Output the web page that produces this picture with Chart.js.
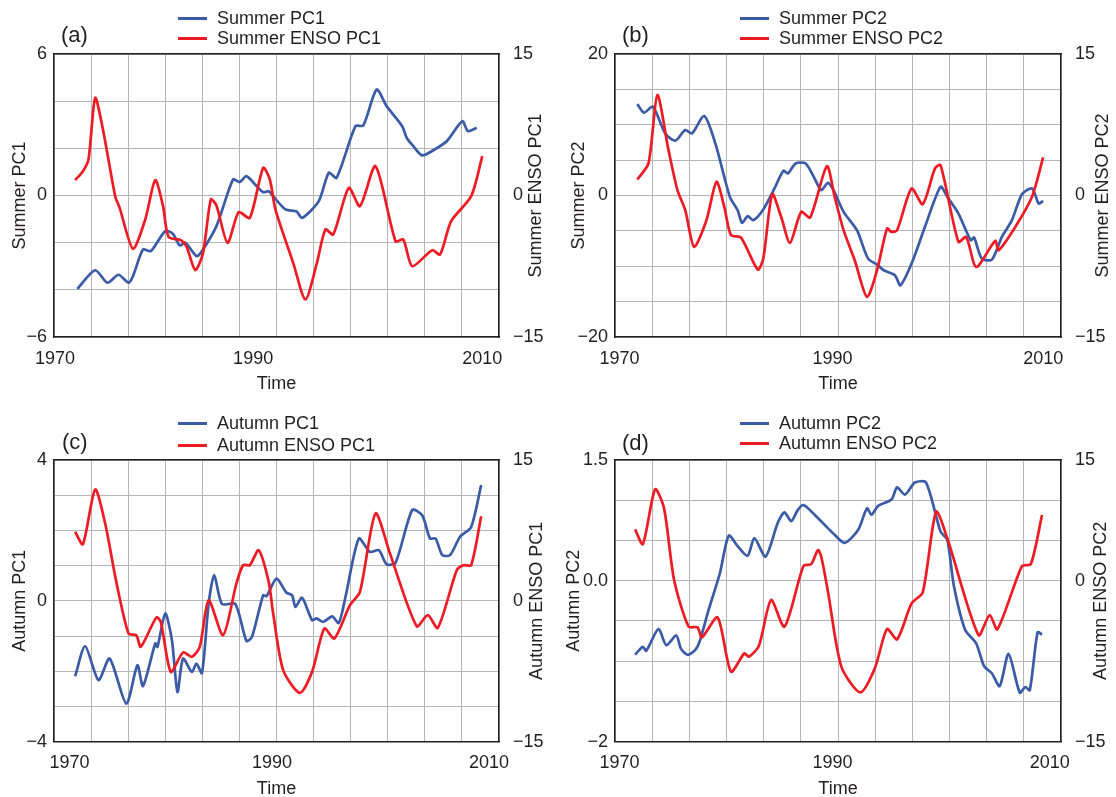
<!doctype html>
<html>
<head>
<meta charset="utf-8">
<title>Summer / Autumn PC vs ENSO PC</title>
<style>
  body { margin:0; background:#fff; font-family:"Liberation Sans", Arial, sans-serif; color:#231f20; }
  .wrap { position:relative; width:1116px; height:797px; overflow:hidden; }
  canvas { position:absolute; }
  .tag { position:absolute; font-size:22px; line-height:24px; }
  .leg { position:absolute; font-size:18px; line-height:20px; white-space:nowrap; }
  .leg i { display:inline-block; width:29px; height:3px; vertical-align:middle; margin-right:10px; position:relative; top:-1px; }
  .b { background:#3b5ba6; } .r { background:#ed1c24; }
</style>
</head>
<body>
<div class="wrap">
  <canvas id="ca" width="558" height="400" style="left:0;top:0"></canvas>
  <canvas id="cb" width="558" height="400" style="left:558px;top:0"></canvas>
  <canvas id="cc" width="558" height="400" style="left:0;top:406px"></canvas>
  <canvas id="cd" width="558" height="400" style="left:558px;top:406px"></canvas>

  <div class="tag" style="left:61px;top:23px">(a)</div>
  <div class="leg" style="left:178px;top:8px"><i class="b"></i>Summer PC1</div>
  <div class="leg" style="left:178px;top:28px"><i class="r"></i>Summer ENSO PC1</div>

  <div class="tag" style="left:622px;top:23px">(b)</div>
  <div class="leg" style="left:740px;top:8px"><i class="b"></i>Summer PC2</div>
  <div class="leg" style="left:740px;top:28px"><i class="r"></i>Summer ENSO PC2</div>

  <div class="tag" style="left:62px;top:430px">(c)</div>
  <div class="leg" style="left:178px;top:413px"><i class="b"></i>Autumn PC1</div>
  <div class="leg" style="left:178px;top:435px"><i class="r"></i>Autumn ENSO PC1</div>

  <div class="tag" style="left:622px;top:431px">(d)</div>
  <div class="leg" style="left:740px;top:413px"><i class="b"></i>Autumn PC2</div>
  <div class="leg" style="left:740px;top:433px"><i class="r"></i>Autumn ENSO PC2</div>
</div>

<script src="https://cdn.jsdelivr.net/npm/chart.js@4.4.1/dist/chart.umd.min.js"></script>
<script>
// values (x = year, y = value on own axis)
const summerPC1Year = [1972.1,1973.7,1974.8,1975.8,1976.7,1977.1,1978.0,1978.7,1980.0,1980.7,1981.3,1981.8,1982.8,1983.2,1984.6,1986.1,1986.7,1987.3,1988.2,1988.8,1989.3,1989.7,1990.8,1991.8,1992.3,1993.8,1994.7,1995.4,1997.1,1997.8,1999.0,1999.9,2001.3,2001.7,2002.3,2003.1,2004.1,2005.3,2006.7,2007.2,2008.0];
const summerPC1     = [-3.96,-3.17,-3.70,-3.36,-3.70,-3.42,-2.29,-2.36,-1.51,-1.63,-2.12,-2.00,-2.57,-2.43,-1.30,0.68,0.57,0.82,0.40,0.14,0.18,-0.03,-0.59,-0.68,-0.95,-0.24,0.96,0.75,2.94,2.97,4.49,3.79,2.94,2.45,2.09,1.70,1.92,2.30,3.15,2.73,2.87];
const summerEnso1Year = [1971.9,1972.6,1973.1,1973.7,1974.4,1975.5,1975.9,1977.1,1978.2,1979.1,1979.8,1980.3,1981.4,1981.9,1982.7,1983.4,1984.1,1984.6,1985.6,1986.6,1987.6,1988.8,1989.4,1989.9,1991.5,1992.6,1993.6,1994.4,1995.1,1996.5,1997.5,1998.9,2000.7,2001.4,2002.2,2004.0,2004.7,2005.7,2007.5,2008.5];
const summerEnso1     = [1.63,2.58,3.82,10.35,7.0,-0.07,-1.31,-5.65,-2.54,1.63,-1.13,-4.38,-4.73,-5.37,-7.92,-6.08,-0.42,-1.06,-5.02,-1.77,-2.37,2.93,1.70,-1.48,-7.14,-11.02,-7.31,-3.60,-4.13,0.81,-1.13,3.11,-4.84,-4.66,-7.49,-5.80,-6.25,-2.72,-0.07,4.17];

const summerPC2Year = [1972.0,1972.6,1973.4,1974.5,1975.4,1976.3,1976.9,1978.0,1979.0,1980.3,1981.0,1981.4,1981.9,1982.4,1983.3,1984.3,1985.1,1985.5,1986.2,1987.1,1987.9,1988.5,1989.1,1989.6,1990.5,1991.7,1992.7,1993.6,1994.1,1995.1,1995.6,1996.6,1997.8,1999.2,1999.8,2000.8,2001.9,2002.2,2002.9,2003.8,2004.7,2005.6,2006.5,2007.4,2008.0,2008.4];
const summerPC2     = [12.92,11.70,12.55,8.77,7.74,9.25,8.77,11.23,7.36,-0.19,-2.08,-3.87,-2.92,-3.49,-1.98,0.99,3.49,3.11,4.53,4.53,2.41,0.75,1.79,0.75,-2.31,-4.91,-8.92,-9.86,-10.57,-11.27,-12.69,-9.62,-4.43,1.23,-0.19,-2.55,-6.32,-5.94,-8.92,-9.06,-5.85,-3.49,0.19,0.99,-1.13,-0.75];
const summerEnso2Year = [1972.0,1973.0,1973.8,1974.8,1975.6,1976.3,1977.1,1978.2,1979.1,1979.8,1980.4,1981.3,1982.8,1983.3,1984.1,1984.9,1985.7,1986.7,1987.5,1989.0,1989.7,1990.5,1991.5,1992.6,1993.5,1994.4,1994.8,1995.3,1996.6,1997.6,1998.7,1999.2,2000.8,2001.5,2002.4,2004.1,2004.4,2005.9,2007.4,2008.4];
const summerEnso2     = [1.70,3.40,10.65,4.81,0.57,-1.56,-5.45,-2.62,1.45,-1.20,-4.21,-4.46,-7.85,-6.69,0.14,-2.26,-5.02,-1.73,-2.33,3.11,-0.14,-3.68,-6.86,-10.75,-7.92,-3.50,-3.86,-3.68,0.74,-0.92,2.87,3.22,-4.92,-4.39,-7.57,-4.81,-5.80,-3.33,-0.14,4.03];

const autumnPC1Year = [1971.9,1972.8,1974.0,1975.0,1976.5,1977.5,1978.0,1979.1,1979.3,1980.0,1980.6,1981.1,1981.6,1982.4,1982.8,1983.3,1983.9,1984.4,1985.1,1986.3,1987.3,1987.8,1988.8,1989.1,1990.0,1990.9,1991.4,1991.7,1992.3,1993.2,1993.6,1994.2,1995.0,1995.6,1996.2,1997.4,1998.4,1999.2,1999.9,2000.7,2002.2,2003.1,2003.8,2004.3,2004.9,2005.6,2006.5,2007.5,2008.4];
const autumnPC1     = [-2.14,-1.29,-2.25,-1.64,-2.92,-1.83,-2.42,-1.21,-1.31,-0.36,-1.12,-2.59,-1.64,-2.02,-1.78,-2.05,-0.08,0.73,-0.09,-0.09,-1.14,-1.02,0.16,0.13,0.63,0.23,0.16,-0.17,0.09,-0.55,-0.50,-0.60,-0.44,-0.63,0.11,1.77,1.39,1.44,1.04,1.08,2.58,2.43,1.77,1.77,1.30,1.30,1.82,2.10,3.29];
const autumnEnso1Year = [1971.9,1972.6,1973.7,1974.6,1975.6,1976.7,1977.4,1977.8,1979.2,1979.6,1980.5,1981.6,1982.4,1983.1,1983.9,1985.2,1986.4,1987.0,1987.6,1988.4,1989.3,1989.7,1990.6,1992.1,1993.2,1994.3,1995.2,1996.6,1997.5,1998.9,2000.2,2002.6,2003.6,2004.5,2006.2,2006.8,2007.5,2008.4];
const autumnEnso1     = [7.35,6.03,11.86,8.24,2.02,-3.48,-3.66,-4.90,-1.77,-2.24,-7.56,-5.50,-5.96,-4.90,0.07,-3.66,1.85,3.80,3.80,5.40,2.02,-1.35,-7.38,-9.80,-7.56,-2.95,-4.01,-0.46,0.96,9.30,5.04,-2.70,-1.53,-2.88,3.27,3.80,3.80,9.02];

const autumnPC2Year = [1971.8,1972.5,1972.8,1973.9,1974.6,1975.5,1975.9,1976.5,1977.2,1977.6,1978.4,1979.4,1980.2,1981.0,1981.9,1982.5,1983.5,1984.6,1985.2,1985.8,1986.4,1986.9,1987.9,1989.7,1990.6,1991.8,1992.6,1993.0,1993.6,1994.8,1995.3,1996.0,1996.9,1997.9,1999.2,1999.8,2000.4,2001.4,2002.4,2003.1,2003.8,2004.5,2005.3,2006.3,2006.8,2007.2,2007.9,2008.3];
const autumnPC2     = [-0.92,-0.82,-0.87,-0.60,-0.80,-0.68,-0.84,-0.92,-0.86,-0.75,-0.36,0.09,0.56,0.43,0.31,0.53,0.30,0.72,0.85,0.74,0.88,0.94,0.82,0.57,0.47,0.63,0.90,0.82,0.93,1.01,1.16,1.07,1.22,1.22,0.61,0.51,-0.07,-0.61,-0.78,-1.06,-1.15,-1.31,-0.91,-1.39,-1.32,-1.36,-0.64,-0.67];
const autumnEnso2Year = [1971.8,1972.5,1973.6,1974.4,1975.3,1976.6,1977.4,1977.8,1979.2,1980.4,1981.6,1982.0,1982.9,1984.0,1985.2,1986.9,1987.6,1988.2,1988.5,1989.1,1990.3,1992.0,1993.3,1994.4,1995.3,1996.6,1997.6,1998.8,1999.8,2002.6,2003.6,2004.3,2006.5,2007.3,2008.3];
const autumnEnso2     = [7.61,6.05,11.88,9.85,2.22,-2.75,-2.82,-3.89,-1.76,-7.54,-5.59,-5.95,-4.81,0.09,-2.75,3.71,3.92,5.41,4.70,0.98,-7.01,-9.74,-7.19,-3.00,-4.10,-0.27,0.91,9.50,6.66,-3.64,-1.51,-3.03,3.71,3.92,9.14];

// tick labels and where they sit on each panel's time axis
const xTickLabels = ['1970', '1990', '2010'];
const xTickPosA = [1970.1, 1987.9, 2008.5];
const xTickPosB = [1970.4, 1989.5, 2008.4];
const xTickPosC = [1971.4, 1989.6, 2009.1];
const xTickPosD = [1970.4, 1989.5, 2009.0];
const rightTickLabels = ['\u221215', '0', '15'];

const BLUE = '#3b5ba6', RED = '#ed1c24', INK = '#231f20', GRID = '#b5b5b5';
Chart.defaults.font.family = '"Liberation Sans", Arial, sans-serif';
Chart.defaults.font.size = 18;
Chart.defaults.color = INK;

// right axis title reads bottom-to-top in the figure, Chart.js draws it the other way
const rightTitle = {
  id: 'rightTitle',
  afterDraw(chart, args, opts) {
    const { ctx, chartArea } = chart;
    ctx.save();
    ctx.translate(chartArea.right + opts.offset, (chartArea.top + chartArea.bottom) / 2);
    ctx.rotate(-Math.PI / 2);
    ctx.font = '18px "Liberation Sans", Arial, sans-serif';
    ctx.fillStyle = INK;
    ctx.textAlign = 'center';
    ctx.textBaseline = 'middle';
    ctx.fillText(opts.text, 0, 0);
    ctx.restore();
  }
};

function pts(xs, ys) { return xs.map((x, i) => ({ x, y: ys[i] })); }

function makePanel(id, p) {
  const cols = Array.from({ length: 13 }, (_, i) => 1970 + i * 40 / 12);
  const rows = [];
  for (let v = p.yMin; v <= p.yMax + 1e-9; v += p.yStep) rows.push(Math.round(v * 1000) / 1000);

  new Chart(document.getElementById(id), {
    type: 'line',
    data: {
      datasets: [
        { label: p.names[0], data: pts(p.pcYear, p.pc), yAxisID: 'y', borderColor: BLUE, order: 1 },
        { label: p.names[1], data: pts(p.ensoYear, p.enso), yAxisID: 'y2', borderColor: RED, order: 0 }
      ]
    },
    options: {
      responsive: false,
      animation: false,
      layout: { padding: { top: 54, left: 0, right: 0, bottom: 0 } },
      elements: { point: { radius: 0 }, line: { borderWidth: 2.7, tension: 0.25 } },
      plugins: {
        legend: { display: false },
        tooltip: { enabled: false },
        rightTitle: { text: p.names[1], offset: p.rtOff }
      },
      scales: {
        x: {
          type: 'linear', position: 'bottom', min: 1970, max: 2010, bounds: 'data',
          grid: { display: false },
          border: { color: INK, width: 1.5 },
          afterBuildTicks: s => { s.ticks = p.xTicks.map(value => ({ value })); },
          ticks: { autoSkip: false, maxRotation: 0, padding: 3, callback: (v, i) => xTickLabels[i] },
          title: { display: true, text: 'Time', padding: { top: 0, bottom: p.timePad } },
          afterFit: s => { s.height = p.xH; }
        },
        xt: {
          type: 'linear', position: 'top', min: 1970, max: 2010, bounds: 'data',
          grid: { color: GRID, lineWidth: 1, drawTicks: false },
          border: { color: INK, width: 1.5 },
          ticks: { display: false },
          afterBuildTicks: s => { s.ticks = cols.map(value => ({ value })); },
          afterFit: s => { s.height = 0; }
        },
        y: {
          position: 'left', min: p.yMin, max: p.yMax, bounds: 'data',
          grid: { color: GRID, lineWidth: 1, drawTicks: false },
          border: { color: INK, width: 1.5 },
          afterBuildTicks: s => { s.ticks = rows.map(value => ({ value })); },
          ticks: { padding: 7, callback: v => p.yLabels[String(v)] ?? '' },
          title: { display: true, text: p.leftTitle, padding: { top: p.ltPad, bottom: 0 } },
          afterFit: s => { s.width = p.yW; }
        },
        y2: {
          position: 'right', min: -15, max: 15, bounds: 'data',
          grid: { display: false },
          border: { color: INK, width: 1.5 },
          afterBuildTicks: s => { s.ticks = p.y2Ticks.map(value => ({ value })); },
          ticks: { padding: 6, callback: (v, i) => rightTickLabels[i] },
          afterFit: s => { s.width = p.y2W; }
        }
      }
    },
    plugins: [rightTitle]
  });
}

makePanel('ca', {
  names: ['Summer PC1', 'Summer ENSO PC1'], leftTitle: 'Summer PC1',
  pcYear: summerPC1Year, pc: summerPC1, ensoYear: summerEnso1Year, enso: summerEnso1,
  xTicks: xTickPosA, yMin: -6, yMax: 6, yStep: 2,
  yLabels: { '-6': '\u22126', '0': '0', '6': '6' }, y2Ticks: [-15, 0, 15],
  yW: 54, y2W: 59, xH: 63, ltPad: 9, timePad: 5, rtOff: 37
});
makePanel('cb', {
  names: ['Summer PC2', 'Summer ENSO PC2'], leftTitle: 'Summer PC2',
  pcYear: summerPC2Year, pc: summerPC2, ensoYear: summerEnso2Year, enso: summerEnso2,
  xTicks: xTickPosB, yMin: -20, yMax: 20, yStep: 5,
  yLabels: { '-20': '\u221220', '0': '0', '20': '20' }, y2Ticks: [-15, 0, 15],
  yW: 57, y2W: 55, xH: 63, ltPad: 10, timePad: 5, rtOff: 42
});
makePanel('cc', {
  names: ['Autumn PC1', 'Autumn ENSO PC1'], leftTitle: 'Autumn PC1',
  pcYear: autumnPC1Year, pc: autumnPC1, ensoYear: autumnEnso1Year, enso: autumnEnso1,
  xTicks: xTickPosC, yMin: -4, yMax: 4, yStep: 1,
  yLabels: { '-4': '\u22124', '0': '0', '4': '4' }, y2Ticks: [-15, 0, 15],
  yW: 54, y2W: 59, xH: 64.3, ltPad: 9, timePad: 6, rtOff: 38
});
// in (d) the right "0" sits on the 0.0 grid line of the left axis
makePanel('cd', {
  names: ['Autumn PC2', 'Autumn ENSO PC2'], leftTitle: 'Autumn PC2',
  pcYear: autumnPC2Year, pc: autumnPC2, ensoYear: autumnEnso2Year, enso: autumnEnso2,
  xTicks: xTickPosD, yMin: -2, yMax: 1.5, yStep: 0.5,
  yLabels: { '-2': '\u22122', '0': '0.0', '1.5': '1.5' }, y2Ticks: [-15, 2.1429, 15],
  yW: 57, y2W: 55, xH: 64.3, ltPad: 5, timePad: 6, rtOff: 40
});
</script>
</body>
</html>
